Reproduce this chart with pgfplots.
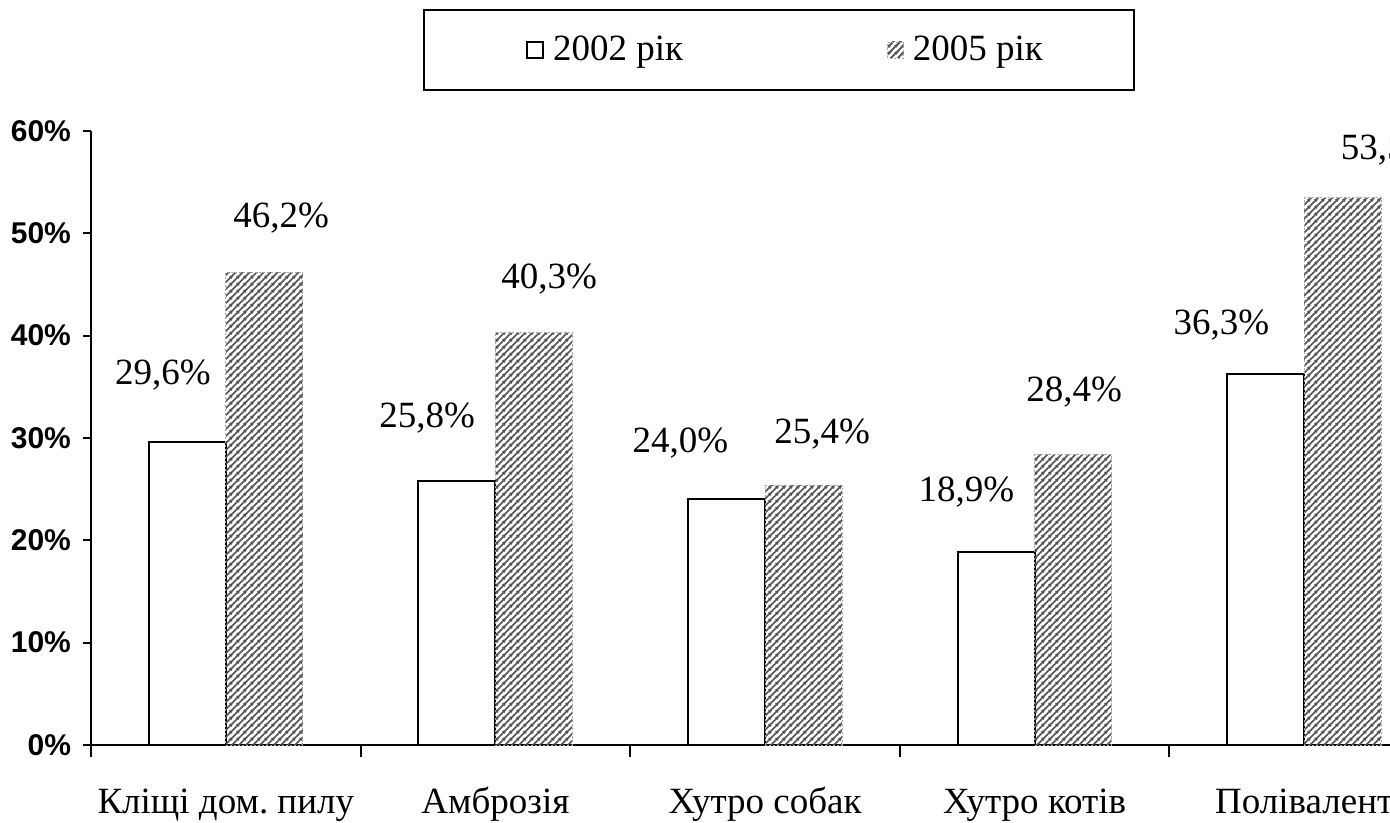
\documentclass[border=0pt]{standalone}
\usepackage{fontspec}
\setmainfont{Liberation Serif}
\setsansfont{Liberation Sans}
\usepackage{pgfplots}
\pgfplotsset{compat=1.18}
\usetikzlibrary{patterns}

\pgfdeclarepatternformonly{hatchne}{\pgfqpoint{0pt}{0pt}}{\pgfqpoint{3.5pt}{3.5pt}}{\pgfqpoint{3.5pt}{3.5pt}}{%
  \pgfsetlinewidth{1.0pt}%
  \pgfpathmoveto{\pgfqpoint{-0.5pt}{-0.5pt}}%
  \pgfpathlineto{\pgfqpoint{4pt}{4pt}}%
  \pgfpathmoveto{\pgfqpoint{-0.5pt}{3pt}}%
  \pgfpathlineto{\pgfqpoint{0.5pt}{4pt}}%
  \pgfpathmoveto{\pgfqpoint{3pt}{-0.5pt}}%
  \pgfpathlineto{\pgfqpoint{4pt}{0.5pt}}%
  \pgfusepath{stroke}}

\pgfplotstableread{
x y
0 29.6
1 25.8
2 24.0
3 18.9
4 36.3
}\dataA
\pgfplotstableread{
x y
0 46.2
1 40.3
2 25.4
3 28.4
4 53.5
}\dataB

\newcommand{\lblfont}{\fontsize{18.5}{22}\selectfont}
\frenchspacing

\begin{document}
\begin{tikzpicture}
\useasboundingbox (0,0) rectangle (695pt,411.5pt);
\clip (0,0) rectangle (695pt,411.5pt);
\fill[white] (0,0) rectangle (695pt,411.5pt);
\draw[line width=1pt] (212pt,366.5pt) rectangle (567pt,406.5pt);
\begin{axis}[
  at={(45.5pt,39pt)}, anchor=south west,
  scale only axis, width=674pt, height=307pt,
  xmin=-0.5, xmax=4.5, ymin=0, ymax=60,
  clip=false,
  axis x line*=bottom, axis y line*=left,
  axis line style={-, line width=1.1pt},
  xtick={0,1,2,3,4},
  xticklabels={Кліщі дом. пилу, Амброзія, Хутро собак, Хутро котів, Полівалент},
  major x tick style={draw=none},
  minor xtick={-0.5,0.5,1.5,2.5,3.5},
  minor tick length=6pt,
  major tick length=4pt,
  tick align=outside,
  every tick/.style={black, line width=1pt},
  ytick={0,10,20,30,40,50,60},
  /pgf/number format/assume math mode=true,
  yticklabel={\pgfmathprintnumber{\tick}\%},
  yticklabel style={font=\sffamily\bfseries\fontsize{15}{18}\selectfont, xshift=-2.5pt},
  xticklabel style={font=\lblfont, anchor=base, yshift=-30.5pt},
  legend columns=2,
  legend style={draw=none, fill=none, at={(0.516,1.132)}, anchor=center,
    font=\lblfont, /tikz/every even column/.append style={column sep=100pt}},
  legend image code/.code={\draw[#1] (0pt,-4pt) rectangle (8pt,4pt); \path (10.5pt,0pt);},
]
\addplot[ybar, bar width=38.5pt, bar shift=-19.25pt, fill=white, draw=black, line width=1pt] table {\dataA};
\addplot[ybar, bar width=38.5pt, bar shift=19.25pt, draw=black!35, dash pattern=on 1pt off 1pt, line width=0.4pt,
  pattern=hatchne, pattern color=black!68] table {\dataB};
\legend{2002 рік, 2005 рік}
\node[font=\lblfont] at (axis cs:-0.233,36.2) {29,6\%};
\node[font=\lblfont] at (axis cs:0.205,51.5) {46,2\%};
\node[font=\lblfont] at (axis cs:0.747,31.96) {25,8\%};
\node[font=\lblfont] at (axis cs:1.199,45.54) {40,3\%};
\node[font=\lblfont] at (axis cs:1.686,29.5) {24,0\%};
\node[font=\lblfont] at (axis cs:2.212,30.4) {25,4\%};
\node[font=\lblfont] at (axis cs:2.747,24.7) {18,9\%};
\node[font=\lblfont] at (axis cs:3.147,34.5) {28,4\%};
\node[font=\lblfont] at (axis cs:3.693,41.0) {36,3\%};
\node[font=\lblfont] at (axis cs:4.313,58.1) {53,5\%};
\end{axis}
\end{tikzpicture}
\end{document}
